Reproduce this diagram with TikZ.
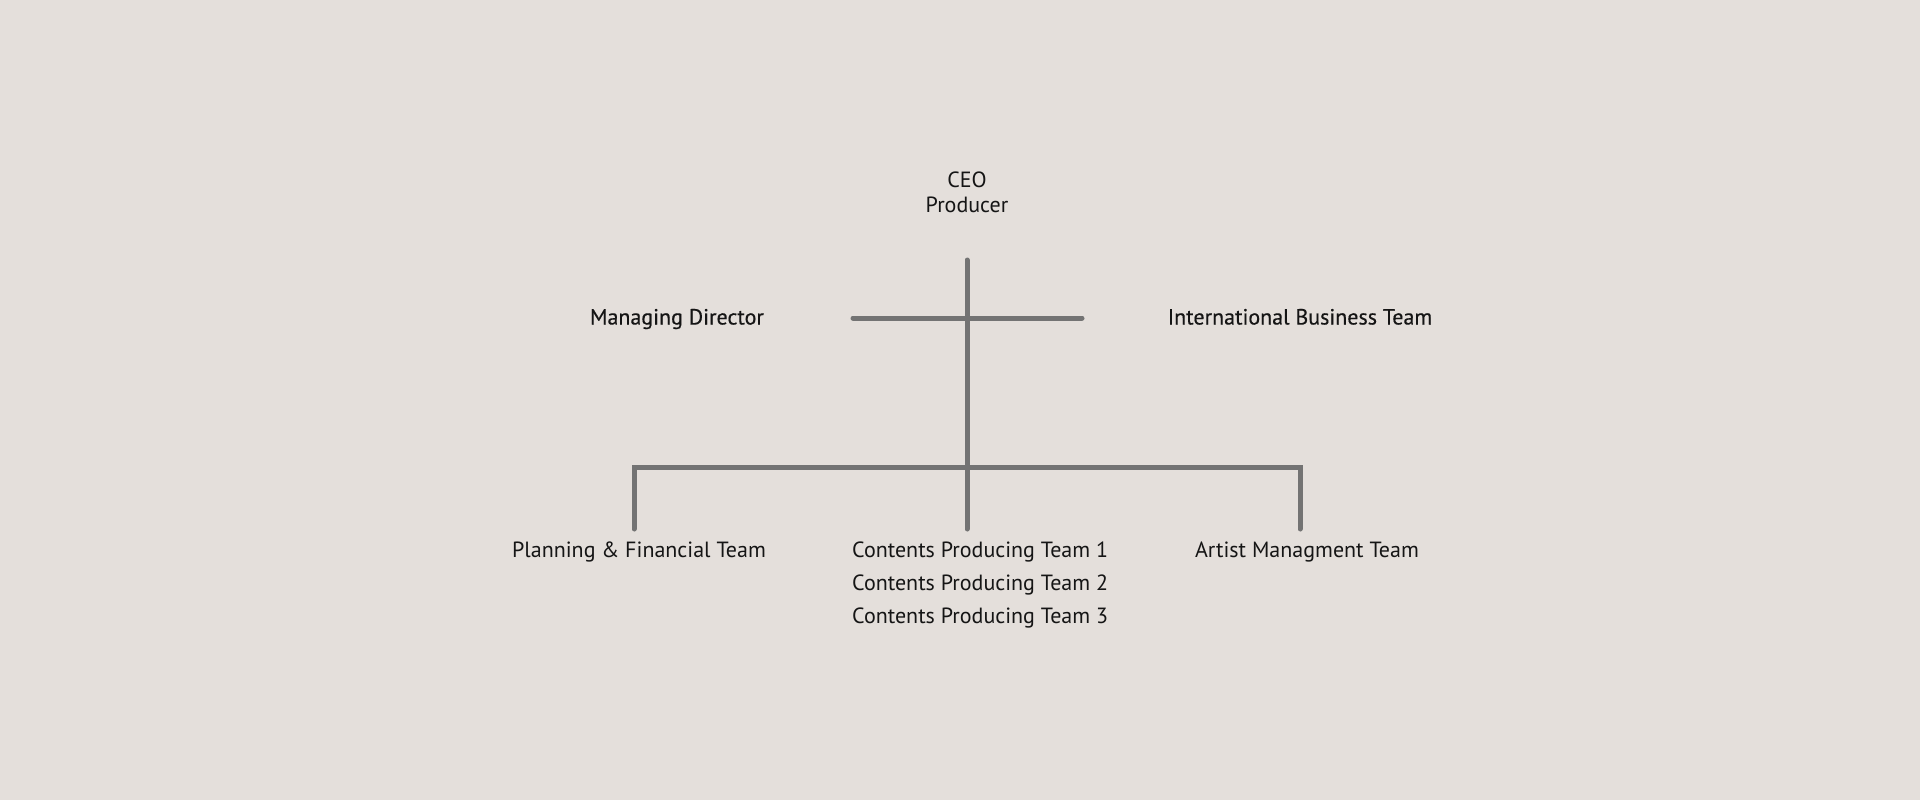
\documentclass[tikz,border=0pt]{standalone}
\usepackage{fontspec}
\setmainfont{PT Sans}
\definecolor{bg}{HTML}{E4DFDB}
\definecolor{ln}{HTML}{737373}
\definecolor{tx}{HTML}{151515}
\begin{document}
\begin{tikzpicture}[x=1pt,y=-1pt,
  conn/.style={draw=ln,line width=5pt,line cap=round,line join=miter},
  lbl/.style={inner sep=0pt,text=tx,text height=16pt,text depth=6pt,font=\fontsize{22}{25}\selectfont},
  lblb/.style={lbl,font=\fontsize{22}{25}\selectfont\addfontfeatures{FakeBold=0.4}}]
\fill[bg] (0,0) rectangle (1920,800);
\useasboundingbox (0,0) rectangle (1920,800);
\node[inner sep=0pt,text=tx,font=\fontsize{22}{25}\selectfont,align=center] (ceo) at (967,192) {CEO\\Producer};
\coordinate (top) at (967,260);
\coordinate (mid) at (967,318);
\coordinate (hub) at (967,467);
\coordinate (ml) at (853,318);
\coordinate (mr) at (1082,318);
\coordinate (bl) at (634,467);
\coordinate (br) at (1300,467);
\coordinate (dl) at (634,529);
\coordinate (dm) at (967,529);
\coordinate (dr) at (1300,529);
\node[lblb] (md) at (677,319.5) {Managing Director};
\node[lblb] (ibt) at (1300,319.5) {International Business Team};
\node[lbl] (pft) at (639,552) {Planning \& Financial Team};
\node[lbl,anchor=west] (cp1) at (852,552) {Contents Producing Team 1};
\node[lbl,anchor=west] (cp2) at (852,585) {Contents Producing Team 2};
\node[lbl,anchor=west] (cp3) at (852,618) {Contents Producing Team 3};
\node[lbl] (amt) at (1307,552) {Artist Managment Team};
\draw[conn] (top) -- (dm);
\draw[conn] (ml) -- (mr);
\draw[conn] (dl) -- (bl) -- (br) -- (dr);
\end{tikzpicture}
\end{document}
